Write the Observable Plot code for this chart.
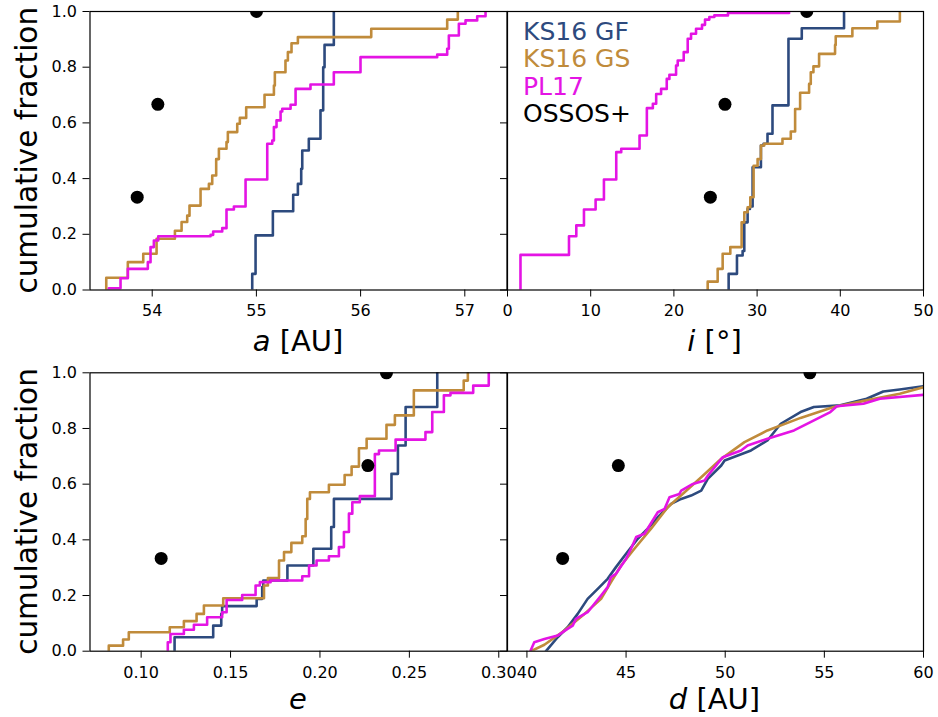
<!DOCTYPE html>
<html><head><meta charset="utf-8">
<script src="https://cdn.jsdelivr.net/npm/d3@7"></script>
<script src="https://cdn.jsdelivr.net/npm/@observablehq/plot@0.6"></script>
<style>
body{margin:0;background:#fff;}
#fig{position:relative;width:938px;height:717px;font-family:"DejaVu Sans",sans-serif;overflow:hidden;}
#fig svg{position:absolute;}
</style></head><body><div id="fig"></div>
<script>
// ---------- data ----------
const seriesNames = ["KS16 GF", "KS16 GS", "PL17", "OSSOS+"];
const seriesColors = ["#2d4a7e", "#c08b3b", "#e414e4", "#000000"];
const yTicks = [0, 0.2, 0.4, 0.6, 0.8, 1.0];

// semimajor axis a [AU]
const aTicks = [54, 55, 56, 57];
const aGF = [[54.960,0],[54.960,0.058],[54.992,0.196],[55.158,0.283],[55.353,0.342],[55.398,0.381],[55.430,0.435],[55.440,0.501],[55.503,0.543],[55.615,0.645],[55.641,0.800],[55.654,0.880],[55.743,1.0]];
const aGS = [[53.559,0],[53.559,0.044],[53.766,0.100],[53.914,0.130],[54.042,0.184],[54.218,0.213],[54.282,0.244],[54.336,0.267],[54.358,0.303],[54.464,0.363],[54.544,0.381],[54.576,0.411],[54.614,0.470],[54.640,0.507],[54.713,0.531],[54.726,0.567],[54.816,0.597],[54.841,0.618],[54.902,0.656],[55.078,0.701],[55.168,0.734],[55.177,0.782],[55.279,0.824],[55.302,0.854],[55.337,0.886],[55.398,0.908],[56.102,0.938],[56.831,0.971],[56.933,1.0]];
const aPL = [[53.584,0],[53.584,0.006],[53.696,0.042],[53.766,0.076],[53.958,0.100],[53.984,0.154],[54.016,0.178],[54.058,0.193],[54.560,0.198],[54.585,0.210],[54.672,0.222],[54.713,0.289],[54.784,0.300],[54.896,0.397],[55.104,0.525],[55.152,0.537],[55.168,0.585],[55.193,0.609],[55.232,0.641],[55.248,0.651],[55.328,0.665],[55.376,0.722],[55.519,0.738],[55.743,0.782],[55.999,0.836],[56.735,0.845],[56.831,0.866],[56.847,0.914],[56.943,0.956],[57.007,0.968],[57.119,0.983],[57.199,1.0]];
const aObs = [[53.856,1/3],[54.054,2/3],[55.001,1]];

// inclination i [deg]
const iTicks = [0, 10, 20, 30, 40, 50];
const iGF = [[26.58,0],[26.58,0.058],[27.58,0.124],[28.26,0.14],[28.46,0.243],[28.86,0.291],[29.14,0.30],[29.46,0.441],[30.46,0.519],[30.78,0.525],[31.25,0.561],[31.85,0.663],[33.77,0.902],[35.37,0.940],[40.45,1.0]];
const iGS = [[24.06,0],[24.06,0.030],[25.26,0.076],[25.86,0.130],[26.78,0.154],[28.14,0.243],[28.46,0.279],[28.86,0.297],[29.18,0.333],[29.58,0.446],[30.06,0.470],[30.46,0.519],[30.86,0.525],[33.05,0.543],[34.05,0.569],[34.57,0.650],[35.17,0.708],[36.25,0.740],[36.45,0.782],[36.77,0.803],[37.45,0.848],[39.37,0.880],[39.45,0.911],[41.45,0.940],[44.45,0.964],[47.16,1.0]];
const iPL = [[1.56,0],[1.56,0.126],[7.39,0.193],[8.27,0.232],[9.19,0.289],[10.59,0.325],[11.59,0.397],[13.07,0.495],[13.67,0.507],[15.87,0.555],[16.75,0.653],[17.47,0.669],[17.87,0.704],[18.46,0.722],[19.14,0.758],[19.46,0.773],[20.26,0.806],[20.46,0.824],[21.18,0.854],[21.66,0.902],[22.06,0.920],[22.66,0.938],[23.38,0.952],[23.74,0.971],[24.26,0.980],[24.86,0.986],[26.5,0.995],[33.85,0.995]];
const iObs = [[24.38,1/3],[26.14,2/3],[35.97,1]];

// eccentricity e
const eTicks = [0.10, 0.15, 0.20, 0.25, 0.30];
const eGF = [[0.1187,0],[0.1187,0.050],[0.1403,0.092],[0.1448,0.134],[0.1453,0.162],[0.1646,0.188],[0.1677,0.230],[0.1683,0.254],[0.1818,0.308],[0.1963,0.368],[0.2063,0.446],[0.2078,0.547],[0.2400,0.637],[0.2436,0.739],[0.2479,0.877],[0.2656,1.0]];
const eGS = [[0.0819,0],[0.0819,0.020],[0.0899,0.042],[0.0931,0.068],[0.1160,0.086],[0.1239,0.108],[0.1310,0.134],[0.1351,0.164],[0.1459,0.190],[0.1687,0.236],[0.1709,0.263],[0.1771,0.326],[0.1799,0.356],[0.1840,0.389],[0.1901,0.413],[0.1920,0.475],[0.1929,0.547],[0.1944,0.571],[0.2050,0.598],[0.2138,0.633],[0.2177,0.663],[0.2218,0.729],[0.2261,0.763],[0.2372,0.813],[0.2419,0.847],[0.2525,0.937],[0.2804,0.972],[0.2827,1.0]];
const ePL = [[0.1149,0],[0.1149,0.032],[0.1164,0.062],[0.1239,0.077],[0.1295,0.095],[0.1369,0.122],[0.1453,0.140],[0.1478,0.184],[0.1565,0.202],[0.1640,0.236],[0.1664,0.248],[0.1724,0.254],[0.1901,0.269],[0.1939,0.308],[0.1981,0.326],[0.2050,0.341],[0.2106,0.374],[0.2134,0.428],[0.2162,0.494],[0.2181,0.535],[0.2223,0.557],[0.2307,0.708],[0.2330,0.721],[0.2423,0.760],[0.2590,0.787],[0.2628,0.859],[0.2693,0.919],[0.2730,0.928],[0.2857,0.954],[0.2944,1.0]];
const eObs = [[0.1112,1/3],[0.2268,2/3],[0.2372,1]];

// distance d [AU]
const dTicks = [40, 45, 50, 55, 60];
const dGF = [[40.96,0],[41.55,0.050],[42.05,0.086],[42.56,0.134],[43.06,0.188],[43.57,0.224],[44.07,0.260],[44.49,0.302],[45.00,0.350],[45.59,0.404],[46.09,0.440],[46.60,0.481],[47.27,0.529],[47.78,0.547],[48.28,0.559],[48.79,0.577],[49.12,0.619],[49.80,0.667],[49.97,0.685],[51.30,0.721],[52.13,0.757],[52.80,0.817],[53.80,0.859],[54.47,0.877],[55.80,0.883],[57.13,0.907],[57.97,0.933],[58.80,0.940],[60.0,0.952]];
const dGS = [[40.20,0],[40.88,0.023],[41.89,0.074],[42.90,0.134],[43.74,0.188],[44.24,0.248],[44.75,0.308],[45.42,0.368],[46.26,0.440],[47.10,0.517],[47.95,0.571],[48.79,0.625],[49.80,0.691],[50.97,0.751],[52.13,0.793],[53.80,0.838],[55.47,0.877],[57.13,0.901],[58.80,0.925],[60.0,0.948]];
const dPL = [[40.17,0],[40.37,0.032],[40.88,0.044],[41.55,0.056],[42.05,0.080],[42.31,0.092],[42.47,0.116],[43.06,0.140],[43.74,0.200],[44.07,0.230],[44.24,0.266],[44.49,0.278],[45.00,0.332],[45.25,0.368],[45.51,0.410],[45.93,0.422],[46.60,0.499],[46.94,0.511],[47.19,0.553],[47.69,0.565],[47.78,0.577],[48.37,0.601],[48.96,0.613],[49.13,0.631],[49.88,0.697],[50.80,0.721],[51.13,0.739],[52.13,0.763],[53.47,0.793],[54.30,0.823],[55.30,0.859],[55.63,0.880],[56.97,0.889],[57.80,0.907],[60.0,0.921]];
const dObs = [[41.80,1/3],[44.61,2/3],[54.27,1]];

// ---------- layout ----------
const FL = 89.5, FM = 506.5, FR = 922.5;
const T1 = 11, B1 = 289.5, T2 = 372.3, B2 = 650.7;
const fig = document.getElementById("fig");

function panel({left, top, width, height, mL, mR, mT, mB, domain, ticks, fmt, yLabels, sets, obs, curve}) {
  const p = Plot.plot({
    width, height,
    marginLeft: mL, marginRight: mR, marginTop: mT, marginBottom: mB,
    style: {fontFamily: "DejaVu Sans", fontSize: "16px", overflow: "visible", background: "transparent", color: "black"},
    x: {domain, ticks, tickFormat: fmt, tickSize: 7, tickPadding: 8, label: null},
    y: {domain: [0, 1], ticks: yTicks, tickFormat: yLabels ? d3.format(".1f") : () => "", tickSize: 7, tickPadding: 6, label: null},
    marks: [
      ...sets.map((s, k) => Plot.line(s, {x: d => d[0], y: d => d[1], stroke: seriesColors[k], strokeWidth: 2.6, curve, clip: true})),
      Plot.dot(obs, {x: d => d[0], y: d => d[1], r: 6.5, fill: seriesColors[3], stroke: "none", clip: true}),
      Plot.frame({stroke: "black", strokeWidth: 1.2})
    ]
  });
  p.style.left = left + "px";
  p.style.top = top + "px";
  fig.appendChild(p);
}

const hTop = 330, hBot = 717 - 361;
panel({left: 0, top: 0, width: FM, height: hTop, mL: FL, mR: 0, mT: T1, mB: hTop - B1,
  domain: [53.403, 57.405], ticks: aTicks, fmt: d3.format("d"), yLabels: true,
  sets: [aGF, aGS, aPL], obs: aObs, curve: "step-after"});
panel({left: FM, top: 0, width: 938 - FM, height: hTop, mL: 0, mR: 938 - FR, mT: T1, mB: hTop - B1,
  domain: [0, 50], ticks: iTicks, fmt: d3.format("d"), yLabels: false,
  sets: [iGF, iGS, iPL], obs: iObs, curve: "step-after"});
panel({left: 0, top: 361, width: FM, height: hBot, mL: FL, mR: 0, mT: T2 - 361, mB: 717 - B2,
  domain: [0.0714, 0.3046], ticks: eTicks, fmt: d3.format(".2f"), yLabels: true,
  sets: [eGF, eGS, ePL], obs: eObs, curve: "step-after"});
panel({left: FM, top: 361, width: 938 - FM, height: hBot, mL: 0, mR: 938 - FR, mT: T2 - 361, mB: 717 - B2,
  domain: [39.02, 60], ticks: dTicks, fmt: d3.format("d"), yLabels: false,
  sets: [dGF, dGS, dPL], obs: dObs, curve: "linear"});

// ---------- labels & legend ----------
const ov = d3.select(fig).append("svg")
  .attr("width", 938).attr("height", 717)
  .style("left", "0px").style("top", "0px").style("pointer-events", "none")
  .attr("font-family", "DejaVu Sans");

function xlabel(x, y, ital, rest) {
  const t = ov.append("text").attr("x", x).attr("y", y).attr("text-anchor", "middle").attr("font-size", 29);
  t.append("tspan").attr("font-style", "italic").text(ital);
  if (rest) t.append("tspan").text(rest);
}
xlabel((FL + FM) / 2, 351, "a", " [AU]");
xlabel((FM + FR) / 2, 351, "i", " [°]");
xlabel((FL + FM) / 2, 709, "e", "");
xlabel((FM + FR) / 2, 709, "d", " [AU]");

for (const cy of [(T1 + B1) / 2, (T2 + B2) / 2]) {
  ov.append("text").attr("transform", `translate(37,${cy}) rotate(-90)`)
    .attr("text-anchor", "middle").attr("font-size", 29.5).text("cumulative fraction");
}

seriesNames.forEach((n, k) => {
  ov.append("text").attr("x", 523).attr("y", 39.5 + k * 27.6)
    .attr("font-size", 25).attr("fill", seriesColors[k]).text(n);
});
</script></body></html>
